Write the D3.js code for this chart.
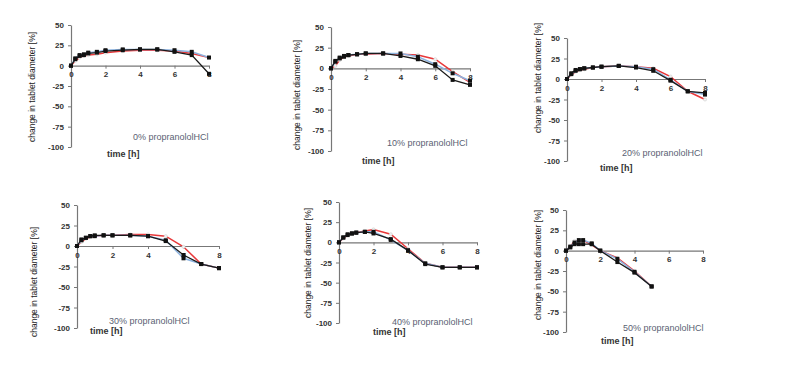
<!DOCTYPE html>
<html><head><meta charset="utf-8">
<script src="https://cdn.jsdelivr.net/npm/d3@7"></script>
<style>
body{margin:0;background:#fff;}
svg{display:block;font-family:"Liberation Sans",Arial,sans-serif;}
.tick text{font-size:8px;font-weight:bold;fill:#333;}
</style></head><body>
<svg id="c" width="806" height="380"></svg>
<script>
// ---- data ----
const times = [0,0.25,0.5,0.75,1,1.5,2,3,4,5,6,7,8];
const xTicks = [0,2,4,6,8];
const yTicks = [50,25,0,-25,-50,-75,-100];
const captions = ["0% propranololHCl","10% propranololHCl","20% propranololHCl","30% propranololHCl","40% propranololHCl","50% propranololHCl"];
const yLabel = "change in tablet diameter [%]";
const xLabel = "time [h]";

const black0 = [0,8,12,13,15,16,18,19,20,20,17,13,-10];
const blue0  = [0,9,13,14,16,17,19,20,20,20,19,17,10];
const red0   = [0,6,10,12,13,14,16,18,19,19,18,15,10];

const black1 = [0,9,12,14,16,17,18,18,15,11,3,-14,-20];
const blue1  = [0,8,13,15,16,17,18,18,18,14,5,-6,-15];
const red1   = [0,3,10,14,15,17,17,18,17,16,11,-4,-17];

const black2 = [0,7,11,12,13,14,15,16,14,10,-2,-15,-17];
const blue2  = [0,6,10,12,13,14,15,16,15,12,-1,-15,-19];
const red2   = [0,5,9,11,12,14,15,16,15,13,3,-15,-25];

const black3 = [0,8,10,12,13,13,13,13,12,6,-11,-22,-27];
const blue3  = [0,7,10,12,12,13,13,13,12,7,-15,-22,-27];
const red3   = [0,5,9,11,12,13,13,14,14,12,-1,-22,-27];

const black4 = [0,6,10,11,12,13,11,4,-10,-27,-31,-31,-31];
const blue4  = [0,6,9,11,12,13,13,3,-10,-26,-31,-31,-31];
const red4   = [0,5,9,11,12,14,16,10,-8,-26,-31,-31,-31];

const black5 = [0,4,8,8,8,8,0,-14,-27,-44,null,null,null];
const blue5  = [0,5,10,13,13,9,0,-10,-26,-44,null,null,null];
const red5   = [0,5,12,12,13,7,0,-9,-25,-44,null,null,null];

const panelData = [
  [red0,blue0,black0],[red1,blue1,black1],[red2,blue2,black2],
  [red3,blue3,black3],[red4,blue4,black4],[red5,blue5,black5]
];

// ---- layout (positions only) ----
const layout = [
  {x0:71, x1:209, yT:25, yB:147, ylx:35, yly:87, cx:133, cy:140, tx:107, ty:157},
  {x0:331,x1:470, yT:27, yB:151, ylx:300,yly:95, cx:387, cy:146, tx:362, ty:164},
  {x0:567,x1:705, yT:38, yB:161, ylx:541,yly:78, cx:622, cy:156, tx:600, ty:171},
  {x0:77, x1:219, yT:205,yB:328, ylx:37, yly:282,cx:109, cy:324, tx:90,  ty:334},
  {x0:339,x1:477, yT:202,yB:323, ylx:311,yly:263,cx:392, cy:325, tx:373, ty:335},
  {x0:566,x1:703, yT:210,yB:332, ylx:541,yly:265,cx:623, cy:331, tx:601, ty:344}
];
const colors = ["#e8383a","#8db3df","#1a1a1a"];

const svg = d3.select("#c");

layout.forEach((L,i)=>{
  const g = svg.append("g");
  const x = d3.scaleLinear().domain([0,8]).range([L.x0,L.x1]);
  const y = d3.scaleLinear().domain([-100,50]).range([L.yB,L.yT]);

  const ya = g.append("g").attr("transform",`translate(${L.x0},0)`)
    .call(d3.axisLeft(y).tickValues(yTicks).tickSize(3).tickSizeOuter(0).tickPadding(4).tickFormat(d=>String(d)));
  const xa = g.append("g").attr("transform",`translate(0,${y(0)})`)
    .call(d3.axisBottom(x).tickValues(xTicks).tickSize(3).tickSizeOuter(0).tickPadding(3).tickFormat(d=>String(d)));
  [ya,xa].forEach(a=>{a.selectAll("path.domain").attr("stroke","#777").attr("stroke-width",1.2);
                      a.selectAll(".tick line").attr("stroke","#777");});

  const line = d3.line().defined(d=>d[1]!==null).x(d=>x(d[0])).y(d=>y(d[1]));
  panelData[i].forEach((vals,k)=>{
    const pts = times.map((t,j)=>[t,vals[j]]);
    g.append("path").datum(pts).attr("d",line).attr("fill","none")
      .attr("stroke",colors[k]).attr("stroke-width",k===2?1.3:1.5);
    const valid = pts.filter(p=>p[1]!==null);
    if(k===0){
      g.selectAll(null).data(valid).enter().append("circle")
        .attr("cx",d=>x(d[0])).attr("cy",d=>y(d[1])).attr("r",1.6)
        .attr("fill","#f2f2f2").attr("stroke","#d0d0d0").attr("stroke-width",0.6);
    } else {
      g.selectAll(null).data(valid).enter().append("rect")
        .attr("x",d=>x(d[0])-2).attr("y",d=>y(d[1])-2)
        .attr("width",4).attr("height",4).attr("fill","#111");
    }
  });

  g.append("text").attr("transform",`translate(${L.ylx},${L.yly}) rotate(-90)`)
    .attr("text-anchor","middle").attr("font-size",8.5).attr("fill","#222")
    .attr("font-family","'Liberation Sans Narrow','Liberation Sans',Arial,sans-serif")
    .text(yLabel);
  g.append("text").attr("x",L.cx).attr("y",L.cy).attr("font-size",9)
    .attr("fill","#5a5f73").text(captions[i]);
  g.append("text").attr("x",L.tx).attr("y",L.ty).attr("font-size",9)
    .attr("font-weight","bold").attr("fill","#333").text(xLabel);
});
</script>
</body></html>
